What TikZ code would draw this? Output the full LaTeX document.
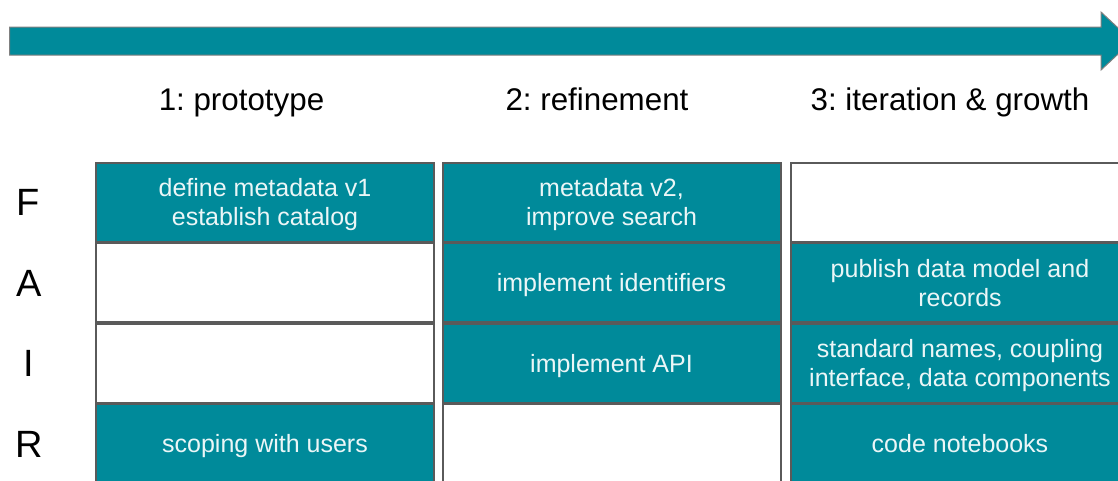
\documentclass[tikz,border=0pt]{standalone}
\usepackage{fontspec}
\setmainfont{Liberation Sans}
\frenchspacing
\definecolor{fairteal}{RGB}{0,138,154}
\definecolor{cellline}{RGB}{90,90,90}
\tikzset{
  cell/.style={draw=cellline,line width=1.5pt,minimum width=253.5pt,minimum height=59.25pt,inner sep=0pt,align=center,
    text depth=0pt,font=\fontsize{18.75}{21.75}\selectfont},
  fullcell/.style={cell,fill=fairteal,text=white!92!fairteal},
  emptycell/.style={cell,fill=white},
  phase/.style={anchor=base,font=\fontsize{23.5}{27}\selectfont},
  letter/.style={font=\fontsize{28.5}{32}\selectfont}
}
\begin{document}
\begin{tikzpicture}[x=0.75pt,y=-0.75pt]
                \useasboundingbox (0,0) rectangle (1118,480);
                \fill[white] (0,0) rectangle (1118,480);
                \draw[fill=fairteal,draw=gray,line width=0.75pt] (9.5,27) -- (1101,27) -- (1101,12) -- (1132,41) -- (1101,70) -- (1101,55) -- (9.5,55) -- cycle;
                \node[phase] (p1) at (241.5,110) {1: prototype};
                \node[phase] (p2) at (597,110) {2: refinement};
                \node[phase] (p3) at (950,110) {3: iteration \& growth};
                \node[letter] (lf) at (28,202) {F};
                \node[letter] (la) at (29,283) {A};
                \node[letter] (li) at (29,363) {I};
                \node[letter] (lr) at (29,444) {R};
                \node[fullcell] (f1) at (265,202) {define metadata v1\\establish catalog};
                \node[emptycell] (a1) at (265,282.5) {};
                \node[emptycell] (i1) at (265,363) {};
                \node[fullcell] (r1) at (265,443.5) {scoping with users};
                \node[fullcell] (f2) at (611.5,202) {metadata v2,\\improve search};
                \node[fullcell] (a2) at (611.5,282.5) {implement identifiers};
                \node[fullcell] (i2) at (611.5,363) {implement API};
                \node[emptycell] (r2) at (611.5,443.5) {};
                \node[emptycell] (f3) at (960,202) {};
                \node[fullcell] (a3) at (960,282.5) {publish data model and\\records};
                \node[fullcell] (i3) at (960,363) {standard names, coupling\\interface, data components};
                \node[fullcell] (r3) at (960,443.5) {code notebooks};
            \end{tikzpicture}
\end{document}
